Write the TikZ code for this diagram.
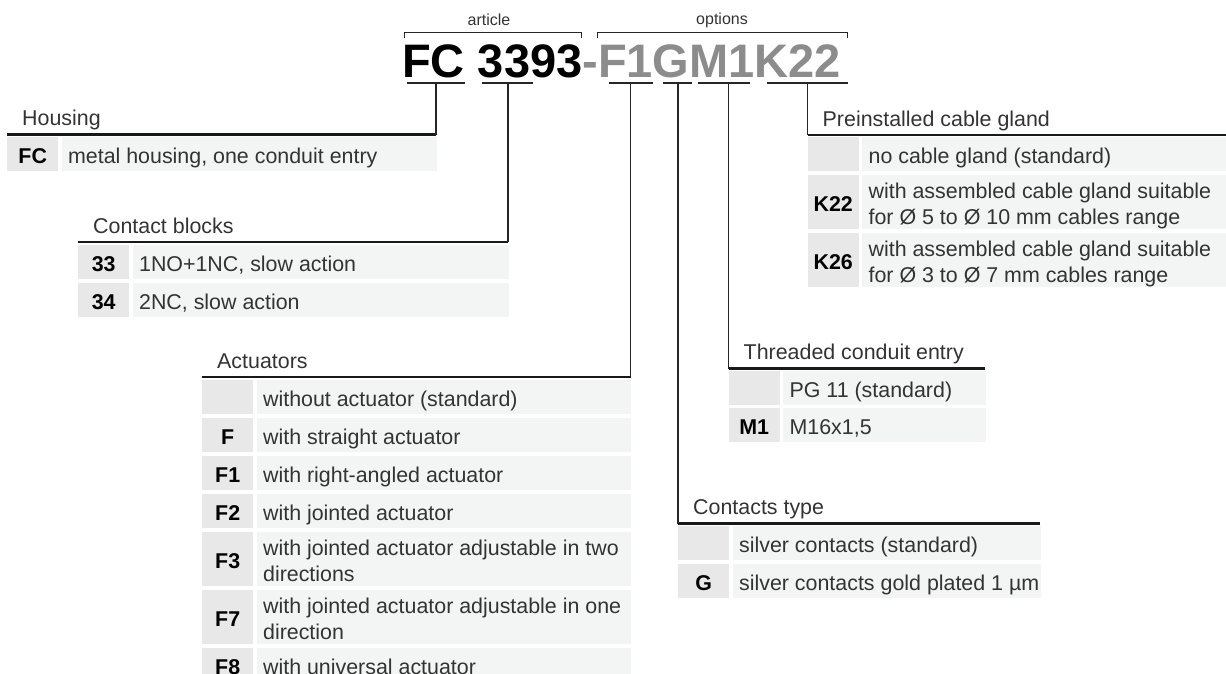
\documentclass[tikz,border=0pt]{standalone}
\usepackage{fontspec}
\setmainfont{Liberation Sans}
\usetikzlibrary{positioning}

\definecolor{codegray}{HTML}{E8E8E8}
\definecolor{descgray}{HTML}{F3F4F4}
\definecolor{optgray}{HTML}{8C8C8C}
\definecolor{txtgray}{HTML}{333333}

\newcommand{\bodyfont}{\fontsize{21.4pt}{25.5pt}\selectfont}
\newcommand{\titlefont}{\fontsize{47pt}{50pt}\selectfont\bfseries}
\newcommand{\smallfont}{\fontsize{16pt}{18pt}\selectfont}

% one line of an option table: name, x, y (top), width of text cell, lines, code, text
\newcommand{\optrow}[7]{%
  \pgfmathsetmacro\rowh{14+20*#5}%
  \pgfmathsetmacro\rowbase{-9.5-12.75*(#5-1)}%
  \node[codecell, minimum height=\rowh pt] (#1) at (#2,#3) {};
  \node[desccell, minimum height=\rowh pt, minimum width=#4pt, right=3pt of #1] (#1d) {};
  \node[codetext] (#1c) at ([yshift=-9pt]#1.center) {#6};
  \node[desctext] (#1t) at ([xshift=6.5pt, yshift=\rowbase pt]#1d.west) {#7};
}

\tikzset{
  headline/.style={line width=2.2pt, draw=black!90},
  link/.style={line width=1.3pt, draw=black!85},
  headtext/.style={anchor=base west, inner sep=0, font=\bodyfont, text=txtgray},
  smalltext/.style={inner sep=0, font=\smallfont, text=txtgray},
  codecell/.style={anchor=north west, fill=codegray, minimum width=51pt, inner sep=0},
  codetext/.style={anchor=base, inner sep=0, font=\bodyfont\bfseries, text=black},
  desccell/.style={fill=descgray, inner sep=0},
  desctext/.style={anchor=base west, inner sep=0, align=left, font=\bodyfont, text=txtgray},
}

\begin{document}
\begin{tikzpicture}[x=1pt, y=-1pt]
\useasboundingbox (0,0) rectangle (1226,673);
\clip (0,0) rectangle (1226,673);

% ordering code
\node[anchor=base west, inner sep=0, font=\titlefont] (title) at (402,77)
  {FC 3393\textcolor{optgray}{-F1GM1K22}};
\node[smalltext] (article) at (489,20) {article};
\node[smalltext] (options) at (722,20) {options};
\draw[link, line width=1pt] (404,38) -- (404,32.5) -- (581,32.5) -- (581,38);
\draw[link, line width=1pt] (597,38) -- (597,32.5) -- (847,32.5) -- (847,38);

% underlines and their ticks
\foreach \name/\a/\m/\b in {uFC/407/436/465, uCB/482/508/533, uAct/609/630.5/653,
    uCon/663/678/692, uThr/698/728.5/750, uCab/767/807.5/848} {
  \draw[link] (\a,83) -- (\b,83);
  \coordinate (\name) at (\m,83);
}

% Housing
\coordinate (hHousL) at (7,134.5);
\coordinate (hHousR) at (436,134.5);
\node[headtext] (hHous) at (22,125.5) {Housing};
\draw[headline] (hHousL) -- (hHousR);
\draw[link] (uFC) -- (hHousR);
\optrow{housFC}{7}{137}{375}{1}{FC}{metal housing, one conduit entry}

% Contact blocks
\coordinate (hCbL) at (78,242);
\coordinate (hCbR) at (508,242);
\node[headtext] (hCb) at (93,233) {Contact blocks};
\draw[headline] (hCbL) -- (hCbR);
\draw[link] (uCB) -- (hCbR);
\optrow{cb33}{78}{245}{376}{1}{33}{1NO+1NC, slow action}
\optrow{cb34}{78}{283}{376}{1}{34}{2NC, slow action}

% Actuators
\coordinate (hActL) at (202,377);
\coordinate (hActR) at (630.5,377);
\node[headtext] (hAct) at (217,368) {Actuators};
\draw[headline] (hActL) -- (hActR);
\draw[link] (uAct) -- (hActR);
\optrow{actStd}{202}{380}{374.5}{1}{}{without actuator (standard)}
\optrow{actF}{202}{418}{374.5}{1}{F}{with straight actuator}
\optrow{actFa}{202}{456}{374.5}{1}{F1}{with right-angled actuator}
\optrow{actFb}{202}{494}{374.5}{1}{F2}{with jointed actuator}
\optrow{actFc}{202}{532}{374.5}{2}{F3}{with jointed actuator adjustable in two\\directions}
\optrow{actFg}{202}{590}{374.5}{2}{F7}{with jointed actuator adjustable in one\\direction}
\optrow{actFh}{202}{648}{374.5}{1}{F8}{with universal actuator}

% Threaded conduit entry
\coordinate (hThrL) at (728.5,368.5);
\coordinate (hThrR) at (985,368.5);
\node[headtext] (hThr) at (743.5,359.5) {Threaded conduit entry};
\draw[headline] (hThrL) -- (hThrR);
\draw[link] (uThr) -- (hThrL);
\optrow{thrStd}{728.5}{371}{202.5}{1}{}{PG 11 (standard)}
\optrow{thrM}{728.5}{408}{202.5}{1}{M1}{M16x1,5}

% Contacts type
\coordinate (hConL) at (678,523.5);
\coordinate (hConR) at (1040,523.5);
\node[headtext] (hCon) at (693,514.5) {Contacts type};
\draw[headline] (hConL) -- (hConR);
\draw[link] (uCon) -- (hConL);
\optrow{conStd}{678}{526}{308}{1}{}{silver contacts (standard)}
\optrow{conG}{678}{564}{308}{1}{G}{silver contacts gold plated 1 µm}

% Preinstalled cable gland
\coordinate (hCabL) at (807.5,135);
\coordinate (hCabR) at (1226,135);
\node[headtext] (hCab) at (822.5,126) {Preinstalled cable gland};
\draw[headline] (hCabL) -- (hCabR);
\draw[link] (uCab) -- (hCabL);
\optrow{cabStd}{807.5}{137}{364.5}{1}{}{no cable gland (standard)}
\optrow{cabK}{807.5}{175}{364.5}{2}{K22}{with assembled cable gland suitable\\for Ø 5 to Ø 10 mm cables range}
\optrow{cabKb}{807.5}{233}{364.5}{2}{K26}{with assembled cable gland suitable\\for Ø 3 to Ø 7 mm cables range}
\end{tikzpicture}
\end{document}
